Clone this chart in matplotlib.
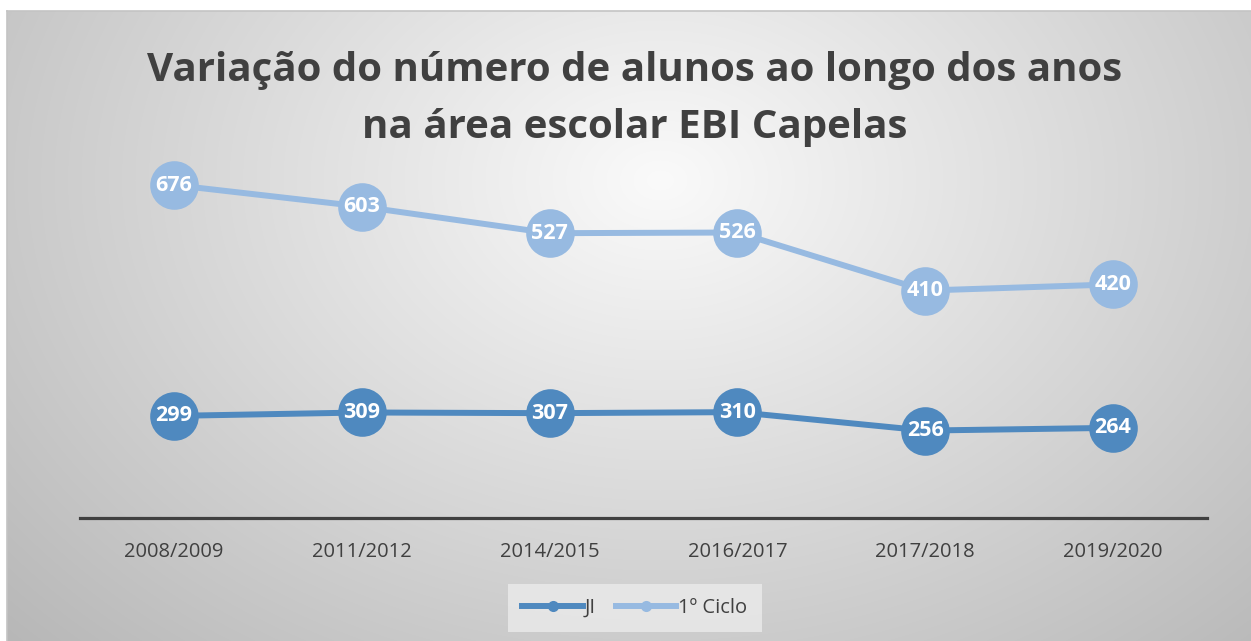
import numpy as np
import matplotlib
matplotlib.use("Agg")
import matplotlib.pyplot as plt
from matplotlib.lines import Line2D

# ---- data ----
years = ["2008/2009", "2011/2012", "2014/2015", "2016/2017", "2017/2018", "2019/2020"]
ji = [299, 309, 307, 310, 256, 264]
ciclo1 = [676, 603, 527, 526, 410, 420]

TITLE = "Variação do número de alunos ao longo dos anos\nna área escolar EBI Capelas"
C_JI = "#4f89bf"
C_C1 = "#97bae1"
TXT = "#404040"
FONT = "Open Sans"

W, H = 1251, 641
fig = plt.figure(figsize=(W / 100, H / 100), dpi=100)
fig.patch.set_facecolor("white")

# ---- background: radial grey gradient inside the chart frame ----
x0, ytop = 7, 11
bg = fig.add_axes([x0 / W, 0, 1 - x0 / W, (H - ytop) / H], zorder=0)
gx, gy = np.meshgrid(np.arange(x0, W), np.arange(ytop, H))
d = np.sqrt(((gx - 660) / 700.0) ** 2 + ((gy - 180) / 520.0) ** 2)
val = np.clip(250 - 52 * d, 0, 255) / 255.0
bg.imshow(np.dstack([val, val, val]), aspect="auto", interpolation="bilinear")
bg.set_axis_off()
fig.add_artist(plt.Line2D([x0 / W, 1], [1 - ytop / H] * 2, color="#c4c4c4", lw=1.2))
fig.add_artist(plt.Line2D([x0 / W] * 2, [0, 1 - ytop / H], color="#c4c4c4", lw=1.2))

# ---- main axes ----
ymax = 1000
y0px = 518
pxu = 0.3415  # pixels per unit
ax = fig.add_axes([80 / W, (H - y0px) / H, 1127 / W, ymax * pxu / H], zorder=2)
ax.patch.set_alpha(0)

x = np.arange(len(years))
top = np.array(ji) + np.array(ciclo1)  # stacked line chart

ax.plot(x, top, "-o", color=C_C1, lw=4.3, ms=35, mew=0, zorder=3, clip_on=False)
ax.plot(x, ji, "-o", color=C_JI, lw=4.3, ms=35, mew=0, zorder=4, clip_on=False)
for xi, yv, lab in zip(x, top, ciclo1):
    ax.text(xi, yv, str(lab), ha="center", va="center", color="white",
            fontsize=15.5, fontweight="bold", family=FONT, zorder=5)
for xi, yv, lab in zip(x, ji, ji):
    ax.text(xi, yv, str(lab), ha="center", va="center", color="white",
            fontsize=15.5, fontweight="bold", family=FONT, zorder=5)

ax.set_xlim(-0.5, len(years) - 0.5)
ax.set_ylim(0, ymax)
ax.set_yticks([])
ax.set_xticks(x)
ax.set_xticklabels(years, fontsize=14.5, color=TXT, family=FONT)
ax.tick_params(axis="x", length=0, pad=17)
for s in ["top", "right", "left"]:
    ax.spines[s].set_visible(False)
ax.spines["bottom"].set_color(TXT)
ax.spines["bottom"].set_linewidth(2.3)

# ---- title ----
fig.text(635 / W, 1 - 99 / H, TITLE, ha="center", va="center", fontsize=29,
         fontweight="bold", color=TXT, family=FONT, linespacing=1.57)

# ---- legend ----
handles = [Line2D([], [], color=C_JI, lw=4.3, marker="o", ms=8, mew=0),
           Line2D([], [], color=C_C1, lw=4.3, marker="o", ms=8, mew=0)]
leg = fig.legend(handles, ["JI", "1º Ciclo"], loc="center",
                 bbox_to_anchor=(635 / W, 1 - 608 / H), ncol=2, frameon=True,
                 fancybox=False, handlelength=3.0, handletextpad=0.1,
                 columnspacing=1.0, borderpad=0.7,
                 prop={"family": FONT, "size": 14.5})
leg.get_frame().set_facecolor("#ebebeb")
leg.get_frame().set_edgecolor("none")
leg.get_frame().set_alpha(0.8)
for t in leg.get_texts():
    t.set_color(TXT)

fig.savefig("out.png", dpi=100)
